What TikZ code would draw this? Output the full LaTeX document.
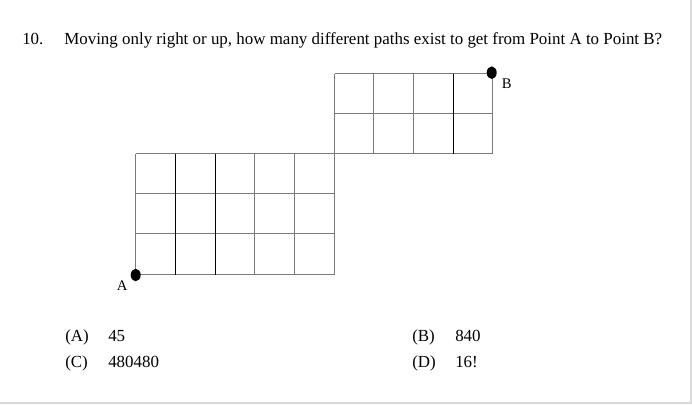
\documentclass[tikz,border=0pt]{standalone}
\usepackage{fontspec}
\setmainfont{Liberation Serif}
\usetikzlibrary{shapes.geometric}
\definecolor{gridgray}{HTML}{7A7A7A}
\definecolor{framegray}{HTML}{D8D8D8}
\begin{document}
\begin{tikzpicture}[x=0.75pt,y=-0.75pt,
  gridline/.style={draw=gridgray,line width=0.75pt},
  darkline/.style={draw=black,line width=0.75pt},
  pointdot/.style={ellipse,fill=black,inner sep=0pt,minimum width=7.5pt,minimum height=9.4pt},
  qtext/.style={anchor=base west,inner sep=0pt,font=\fontsize{12.7pt}{15pt}\selectfont},
  ptlabel/.style={anchor=base west,inner sep=0pt,font=\fontsize{11pt}{13pt}\selectfont}]
\useasboundingbox (0,0) rectangle (692,404);
% frame
\draw[framegray,line width=1.5pt] (690.5,0) -- (690.5,402.5) -- (0,402.5);
% title
\node[qtext] (num) at (22,44) {10.};
\node[qtext] (question) at (64,44) {Moving only right or up, how many different paths exist to get from Point A to Point B?};
% lower grid (5 x 3)
\foreach \yy in {153.5,193.5,233.5,274.5} \draw[gridline] (135.5,\yy) -- (334.5,\yy);
\foreach \xx in {135.5,254.5,294.5,334.5} \draw[gridline] (\xx,153.5) -- (\xx,274.5);
\foreach \xx in {175.5,215.5} \draw[darkline] (\xx,153.5) -- (\xx,274.5);
% upper grid (4 x 2)
\foreach \yy in {73.5,113.5,153.5} \draw[gridline] (334.5,\yy) -- (492.5,\yy);
\foreach \xx in {334.5,373.5,413.5} \draw[gridline] (\xx,73.5) -- (\xx,153.5);
\draw[darkline] (453.5,73.5) -- (453.5,153.5);
\draw[gridline] (492.5,73.5) -- (492.5,153.5);
% points
\node[pointdot] (A) at (135.7,275) {};
\node[pointdot] (B) at (491.7,72.7) {};
\node[ptlabel] (Alabel) at (116.5,290) {A};
\node[ptlabel] (Blabel) at (501.5,88.3) {B};
% answers
\node[qtext] (oa) at (65,341.7) {(A)};
\node[qtext] (va) at (108,341.7) {45};
\node[qtext] (ob) at (412,341.7) {(B)};
\node[qtext] (vb) at (455,341.7) {840};
\node[qtext] (oc) at (65,367.5) {(C)};
\node[qtext] (vc) at (108,367.5) {480480};
\node[qtext] (od) at (412,367.5) {(D)};
\node[qtext] (vd) at (455,367.5) {16!};
\end{tikzpicture}
\end{document}
